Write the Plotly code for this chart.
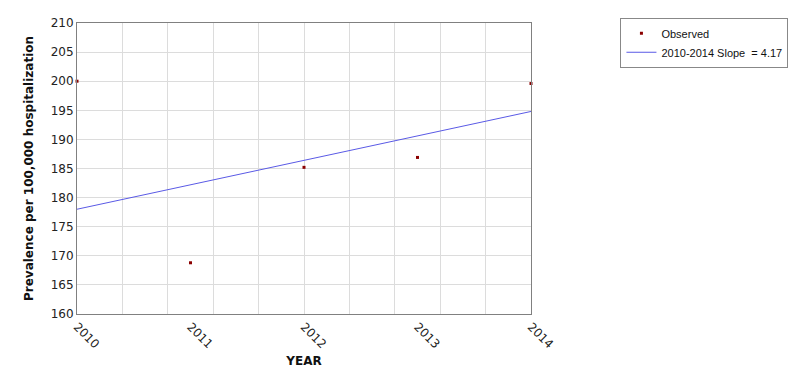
import plotly.graph_objects as go

years = [2010, 2011, 2012, 2013, 2014]
observed = [200.0, 168.8, 185.2, 186.9, 199.6]
fit_years = [2010, 2014]
fit_values = [178.0, 194.8]
x_tick_labels = ["2010", "2011", "2012", "2013", "2014"]
y_ticks = [160, 165, 170, 175, 180, 185, 190, 195, 200, 205, 210]

fig = go.Figure()
fig.add_trace(go.Scatter(
    x=years, y=observed, mode="markers", name="Observed",
    marker=dict(symbol="square", size=3, color="#8b0000"),
    cliponaxis=False,
))
fig.add_trace(go.Scatter(
    x=fit_years, y=fit_values, mode="lines", name="2010-2014 Slope  = 4.17",
    line=dict(color="#5a5ae6", width=1),
))

axis_font = dict(family="DejaVu Sans", size=12, color="#222222")
fig.update_layout(
    width=792, height=362,
    margin=dict(l=69, r=269, t=10, b=56),
    paper_bgcolor="white", plot_bgcolor="white",
    showlegend=True,
    legend=dict(
        x=1.197, y=1.018, xanchor="left", yanchor="top",
        bordercolor="#888888", borderwidth=1,
        font=dict(family="Liberation Sans", size=11, color="#111111"),
        tracegroupgap=0, itemwidth=30,
    ),
    xaxis=dict(
        range=[2010, 2014],
        tickvals=years, ticktext=x_tick_labels,
        tickangle=45, tickfont=axis_font,
        showgrid=False,
        minor=dict(tick0=2010, dtick=0.4, showgrid=True, gridcolor="#dcdcdc", gridwidth=1),
        showline=True, linecolor="#808080", linewidth=1, mirror=True,
        ticks="", zeroline=False, automargin=False,
        title=dict(text="<b>YEAR</b>", font=dict(family="DejaVu Sans", size=12, color="#111111"), standoff=6),
    ),
    yaxis=dict(
        range=[160, 210],
        tickvals=y_ticks,
        tickfont=axis_font,
        showgrid=True, gridcolor="#dcdcdc", gridwidth=1,
        showline=True, linecolor="#808080", linewidth=1, mirror=True,
        ticks="", zeroline=False, automargin=False,
        title=dict(text="<b>Prevalence per 100,000 hospitalization</b>",
                   font=dict(family="DejaVu Sans", size=12, color="#111111"), standoff=14),
    ),
)

fig.write_html("out.html")
